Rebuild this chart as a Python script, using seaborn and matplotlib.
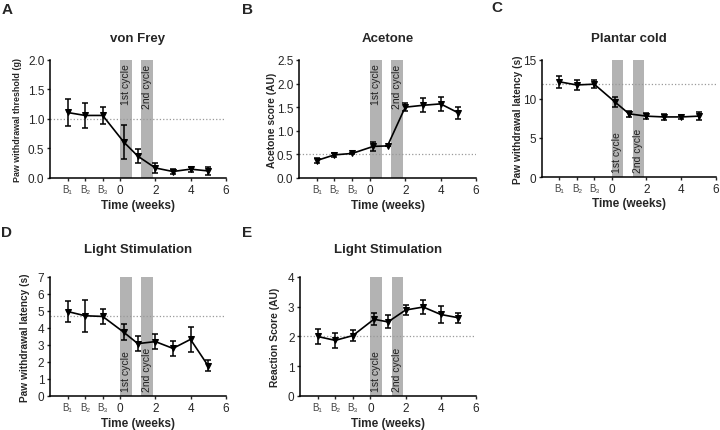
import numpy as np
import pandas as pd
import matplotlib
matplotlib.use("Agg")
import matplotlib.pyplot as plt
import seaborn as sns

sns.set_theme(style="ticks")
plt.rcParams["font.family"] = ["Liberation Sans", "DejaVu Sans"]

# time points: baselines B1-B3 drawn at -3, -2, -1, then weeks
weeks = [-3, -2, -1, 0.2, 1, 2, 3, 4, 5]

vf_mean = [1.11, 1.06, 1.06, 0.61, 0.37, 0.17, 0.11, 0.15, 0.12]
vf_err = [0.23, 0.21, 0.15, 0.29, 0.12, 0.08, 0.05, 0.04, 0.07]

ac_mean = [0.37, 0.49, 0.52, 0.67, 0.68, 1.50, 1.54, 1.57, 1.38]
ac_err = [0.05, 0.05, 0.02, 0.09, 0.0, 0.08, 0.15, 0.15, 0.13]

pc_mean = [12.2, 11.8, 11.9, 9.6, 8.1, 7.8, 7.7, 7.7, 7.8]
pc_err = [0.8, 0.6, 0.5, 0.6, 0.35, 0.35, 0.35, 0.3, 0.55]

ls_mean = [4.97, 4.72, 4.68, 3.75, 3.08, 3.20, 2.80, 3.33, 1.78]
ls_err = [0.60, 0.95, 0.45, 0.48, 0.42, 0.42, 0.45, 0.75, 0.33]

rs_mean = [2.00, 1.87, 2.03, 2.58, 2.49, 2.89, 2.99, 2.74, 2.63]
rs_err = [0.25, 0.24, 0.18, 0.20, 0.22, 0.16, 0.22, 0.28, 0.17]

cycles = [(0, 0.67, "1st cycle"), (1.2, 1.87, "2nd cycle")]
xticks = [-3, -2, -1, 0, 2, 4, 6]
xticklabels = ["B\u2081", "B\u2082", "B\u2083", "0", "2", "4", "6"]

panels = [
    # letter, title, ylabel, mean, err, baseline, ylim, yticks, fmt, text at top?, rect, ylabel x, ylabel size, letter pos
    ("A", "von Frey", "Paw withdrawal threshold (g)", vf_mean, vf_err, 1.0,
     (0, 2.0), np.arange(0, 2.01, 0.5), "{:.1f}", True,
     [0.0694, 0.5847, 0.244, 0.2738], -0.16, 6.4, (2, 10)),
    ("B", "Acetone", "Acetone score (AU)", ac_mean, ac_err, 0.5,
     (0, 2.5), np.arange(0, 2.51, 0.5), "{:.1f}", True,
     [0.4153, 0.5847, 0.2458, 0.2738], -0.125, 7.4, (242, 10)),
    ("C", "Plantar cold", "Paw withdrawal latency (s)", pc_mean, pc_err, 11.9,
     (0, 15), [0, 5, 10, 15], "{:.0f}", False,
     [0.7528, 0.5870, 0.2417, 0.2715], -0.11, 7.3, (491, 8)),
    ("D", "Light Stimulation", "Paw withdrawal latency (s)", ls_mean, ls_err, 4.72,
     (0, 7), range(0, 8), "{:.0f}", False,
     [0.0694, 0.0789, 0.244, 0.2761], -0.115, 7.3, (1, 233)),
    ("E", "Light Stimulation", "Reaction Score (AU)", rs_mean, rs_err, 2.0,
     (0, 4), range(0, 5), "{:.0f}", False,
     [0.4167, 0.0789, 0.2444, 0.2761], -0.115, 7.4, (242, 233)),
]

fig = plt.figure(figsize=(7.2, 4.31), dpi=100)

for (letter, title, ylabel, mean, err, base, ylim, yticks, fmt, top, rect,
     ylab_x, ylab_size, lpos) in panels:
    ax = fig.add_axes(rect)
    df = pd.DataFrame({"week": weeks, "value": mean})

    for x0, x1, label in cycles:
        ax.axvspan(x0, x1, color="#b3b3b3", lw=0, zorder=0)
        ty = ylim[1] * 0.97 if top else ylim[1] * 0.04
        ax.text((x0 + x1) / 2, ty, label, rotation=90, ha="center",
                va="top" if top else "bottom", fontsize=7.5, color="#222222")

    ax.axhline(base, color="#999999", ls=":", lw=0.9, zorder=1)
    ax.errorbar(weeks, mean, yerr=err, fmt="none", ecolor="black",
                elinewidth=1.1, capsize=2.3, capthick=1.1, zorder=3)
    sns.lineplot(data=df, x="week", y="value", ax=ax, color="black", lw=1.2,
                 marker="v", markersize=4, markeredgecolor="black", zorder=4)

    ax.set_xlim(-4, 6)
    ax.set_ylim(*ylim)
    ax.set_xticks(xticks)
    ax.set_xticklabels(xticklabels)
    ax.set_yticks(list(yticks))
    ax.set_yticklabels([fmt.format(v) for v in yticks])
    ax.tick_params(axis="both", labelsize=8.5, length=2.5, width=1.0, pad=1.5)
    for t in ax.get_xticklabels()[:3]:
        t.set_fontsize(7)
        t.set_color("#444444")
    ax.set_xlabel("Time (weeks)", fontsize=8.5, fontweight="bold")
    ax.xaxis.set_label_coords(0.5, -0.175)
    ax.set_ylabel(ylabel, fontsize=ylab_size, fontweight="bold")
    ax.yaxis.set_label_coords(ylab_x, 0.5)
    ax.set_title(title, fontsize=9.5, fontweight="bold",
                 pad=14 if rect[1] > 0.5 else 18)
    sns.despine(ax=ax)
    for s in ("left", "bottom"):
        ax.spines[s].set_linewidth(1.1)
        ax.spines[s].set_color("black")

    fig.text(lpos[0] / 720, 1 - lpos[1] / 431, letter, fontsize=11,
             fontweight="bold", va="center", ha="left")

fig.savefig("out.png", dpi=100)
